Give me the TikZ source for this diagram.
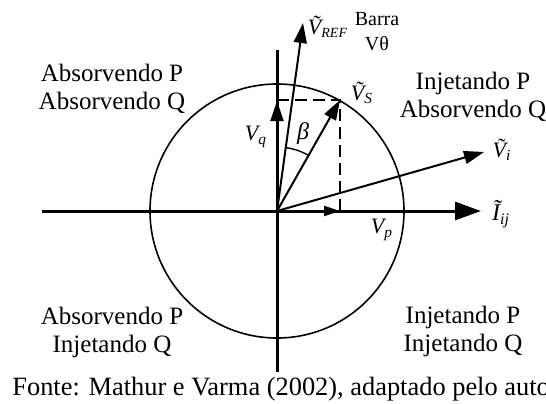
\documentclass[tikz,border=0pt]{standalone}
\usepackage{fontspec}
\setmainfont{Liberation Serif}
\usetikzlibrary{arrows.meta}
\begin{document}
\begin{tikzpicture}[x=0.5pt,y=-0.5pt,
  lbl/.style={font=\fontsize{12.5}{14}\selectfont, align=center, inner sep=0},
  mth/.style={font=\fontsize{11}{13}\selectfont\itshape, inner sep=0},
  axisline/.style={line width=1.5pt},
  axisarrow/.style={line width=1.5pt, -{Triangle[length=13pt,width=9pt]}},
  vec/.style={line width=1pt, -{Triangle[length=10pt,width=6.5pt]}},
  smallvec/.style={line width=1pt, -{Triangle[length=8pt,width=5pt]}},
  guide/.style={line width=0.9pt, dash pattern=on 6pt off 3pt}]
\useasboundingbox (0,0) rectangle (546,403);
\coordinate (O) at (277,211);
\coordinate (L) at (42,211);
\coordinate (R) at (481,211);
\coordinate (T) at (277,50);
\coordinate (B) at (277,372);
\coordinate (Q) at (277,101);
\coordinate (S) at (340,100);
\coordinate (Qd) at (277,100);
\coordinate (P) at (340,211);
\coordinate (REF) at (303,23);
\coordinate (Vi) at (484,152);
% circle
\draw[line width=0.8pt] (O) circle (63.5pt);
% dashed guides
\draw[guide] (Qd) -- (S) -- (P);
% axes
\draw[axisarrow] (L) -- (R);
\draw[axisline] (B) -- (T);
% vectors
\draw[vec] (O) -- (Q);
\draw[smallvec] (O) -- (P);
\draw[vec] (O) -- (S);
\draw[vec] (O) -- (REF);
\draw[vec] (O) -- (Vi);
% beta arc
\draw[line width=0.7pt] ([shift={(82.1:32pt)}]O) arc[start angle=82.1, end angle=60.4, radius=32pt];
% labels
\node[mth] (lREF) at (328,27) {\~{V}\textsubscript{\fontsize{7}{8}\selectfont REF}};
\node[lbl, font=\fontsize{10}{12.5}\selectfont] (barra) at (377,32) {Barra\\Vθ};
\node[mth] (lS) at (362,93) {\~{V}\textsubscript{S}};
\node[mth] (li) at (502,150) {\~{V}\textsubscript{i}};
\node[mth, font=\fontsize{12}{14}\selectfont\itshape] (lI) at (501,214) {\~{I}\textsubscript{ij}};
\node[mth] (lq) at (256,137) {V\textsubscript{q}};
\node[mth] (lp) at (382,230) {V\textsubscript{p}};
\node[mth, font=\fontsize{12}{14}\selectfont\itshape] (lb) at (303,134) {β};
\node[lbl] (q2) at (112,89) {Absorvendo P\\Absorvendo Q};
\node[lbl] (q1) at (473,97) {Injetando P\\Absorvendo Q};
\node[lbl] (q3) at (112,332) {Absorvendo P\\Injetando Q};
\node[lbl] (q4) at (463,331) {Injetando P\\Injetando Q};
\node[anchor=base west, font=\fontsize{13.2}{16}\selectfont, inner sep=0] (cap) at (12,395) {Fonte: Mathur e Varma (2002), adaptado pelo autor};
\end{tikzpicture}
\end{document}
